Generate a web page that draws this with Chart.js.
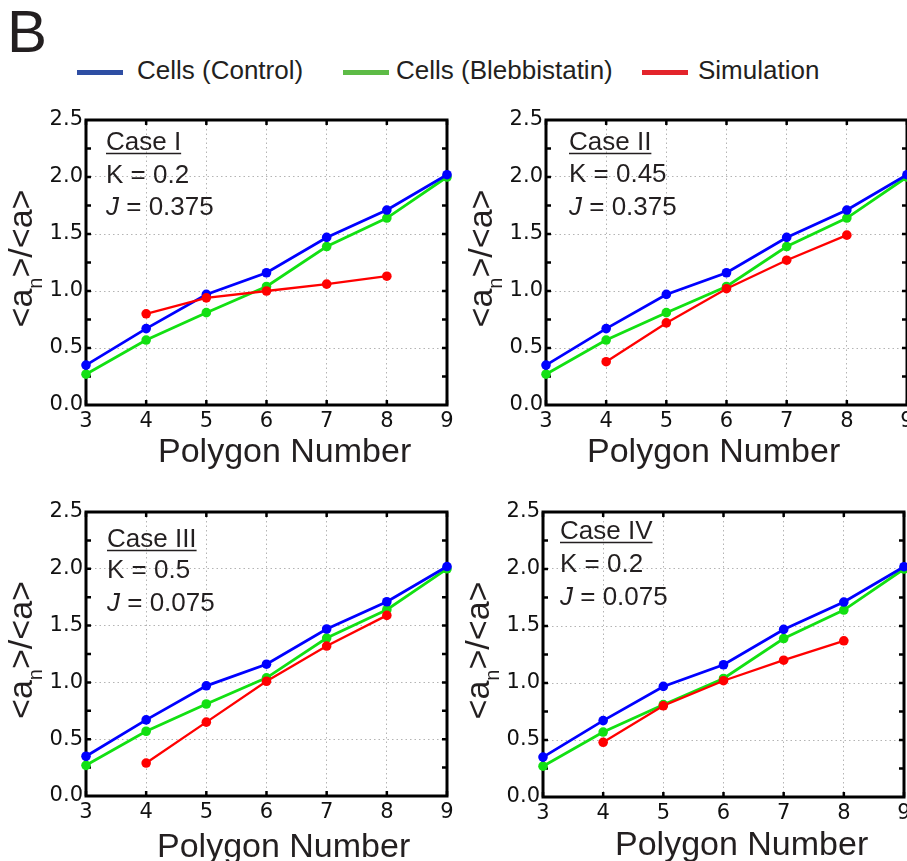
<!DOCTYPE html>
<html>
<head>
<meta charset="utf-8">
<script src="https://cdn.jsdelivr.net/npm/chart.js@4"></script>
<style>
  html, body { margin: 0; padding: 0; background: #fff; overflow: hidden; }
  #page { position: relative; width: 907px; height: 861px; overflow: hidden;
          font-family: "Liberation Sans", Arial, sans-serif; color: #231f20; }
  #page canvas { position: absolute; }
  .letter { position: absolute; left: 7px; top: -2px; font-size: 60px; line-height: 68px; }
  .key { position: absolute; top: 70px; width: 46px; height: 5px; }
  .label { position: absolute; top: 55px; font-size: 26px; line-height: 30px; white-space: nowrap; }
</style>
</head>
<body>
<div id="page">
  <div class="letter">B</div>
  <div class="key" style="left:77px;background:#2e4ea3"></div>
  <div class="label" style="left:137px">Cells (Control)</div>
  <div class="key" style="left:343px;background:#5dbb46"></div>
  <div class="label" style="left:396px">Cells (Blebbistatin)</div>
  <div class="key" style="left:642px;background:#e3242b"></div>
  <div class="label" style="left:698px">Simulation</div>

  <canvas id="c1" width="460" height="380" style="left:0px;top:100px"></canvas>
  <canvas id="c2" width="460" height="380" style="left:460px;top:100px"></canvas>
  <canvas id="c3" width="460" height="380" style="left:0px;top:490px"></canvas>
  <canvas id="c4" width="460" height="380" style="left:457px;top:490px"></canvas>
</div>

<script>
// polygon number (x) and the measured ratios <a_n>/<a>
const polygons = [3, 4, 5, 6, 7, 8, 9];
const control = [0.35, 0.67, 0.97, 1.16, 1.47, 1.71, 2.02];
const blebbistatin = [0.27, 0.57, 0.81, 1.04, 1.39, 1.64, 2.0];

// simulation results for each case
const simCase1 = [null, 0.80, 0.94, 1.00, 1.06, 1.13, null];
const simCase2 = [null, 0.38, 0.72, 1.02, 1.27, 1.49, null];
const simCase3 = [null, 0.29, 0.65, 1.01, 1.32, 1.59, null];
const simCase4 = [null, 0.48, 0.80, 1.02, 1.20, 1.37, null];

const caseNames = ["Case I", "Case II", "Case III", "Case IV"];
const kValues = ["0.2", "0.45", "0.5", "0.2"];
const jValues = ["0.375", "0.375", "0.075", "0.075"];
const yTicks = [0, 0.5, 1.0, 1.5, 2.0, 2.5];

const FONT = '"Liberation Sans", Arial, sans-serif';
const TICK_FONT = '"DejaVu Sans", sans-serif';
const INK = "#231f20";

const toPoints = (vals) =>
  polygons.map((n, i) => ({ x: n, y: vals[i] })).filter((p) => p.y !== null);

// frame, inside tick marks and all the panel texts
const panelDecor = {
  id: "panelDecor",
  beforeDatasetsDraw(chart, args, opts) {
    const { ctx, chartArea: a, scales } = chart;
    const x = scales.x, y = scales.y;
    ctx.save();
    ctx.strokeStyle = "#000";
    ctx.lineWidth = 2.5;
    ctx.beginPath();
    for (let v = 0.25; v < 2.5; v += 0.25) {
      const py = y.getPixelForValue(v);
      ctx.moveTo(a.left, py);
      ctx.lineTo(a.left + 5, py);
      ctx.moveTo(a.right, py);
      ctx.lineTo(a.right - 5, py);
    }
    polygons.forEach((n) => {
      const px = x.getPixelForValue(n);
      ctx.moveTo(px, a.top);
      ctx.lineTo(px, a.top + 5);
      ctx.moveTo(px, a.bottom);
      ctx.lineTo(px, a.bottom - 5);
    });
    ctx.stroke();
    ctx.lineWidth = 3;
    ctx.strokeRect(a.left, a.top, a.right - a.left, a.bottom - a.top);
    ctx.restore();
  },
  afterDraw(chart, args, opts) {
    const { ctx, chartArea: a } = chart;
    ctx.save();
    ctx.fillStyle = INK;
    ctx.strokeStyle = INK;
    ctx.textBaseline = "alphabetic";
    ctx.textAlign = "left";

    // case label block
    const tx = a.left + opts.textDx;
    ctx.font = "26px " + FONT;
    ctx.fillText(opts.name, tx, a.top + opts.lines[0]);
    const w = ctx.measureText(opts.name).width;
    ctx.lineWidth = 1.5;
    ctx.beginPath();
    ctx.moveTo(tx, a.top + opts.lines[0] + 3.5);
    ctx.lineTo(tx + w, a.top + opts.lines[0] + 3.5);
    ctx.stroke();
    ctx.fillText("K = " + opts.k, tx, a.top + opts.lines[1]);
    ctx.font = "italic 26px " + FONT;
    ctx.fillText("J", tx, a.top + opts.lines[2]);
    const jw = ctx.measureText("J").width;
    ctx.font = "26px " + FONT;
    ctx.fillText(" = " + opts.j, tx + jw, a.top + opts.lines[2]);

    // x axis title
    ctx.font = "34px " + FONT;
    ctx.fillText("Polygon Number", a.left + opts.xTitleDx, a.bottom + opts.xTitleDy);

    // y axis title with subscript n
    const big = "34px " + FONT, small = "20px " + FONT;
    ctx.translate(a.left - 54, (a.top + a.bottom) / 2 - 4);
    ctx.rotate(-Math.PI / 2);
    ctx.font = big;
    const w1 = ctx.measureText("<a").width;
    const w3 = ctx.measureText(">/<a>").width;
    ctx.font = small;
    const w2 = ctx.measureText("n").width;
    const x0 = -(w1 + w2 + w3) / 2;
    ctx.font = big;
    ctx.fillText("<a", x0, 0);
    ctx.font = small;
    ctx.fillText("n", x0 + w1, 10);
    ctx.font = big;
    ctx.fillText(">/<a>", x0 + w1 + w2, 0);
    ctx.restore();
  }
};

function makePanel(id, idx, sim, layout) {
  const dot = (color, r) => ({
    borderColor: color,
    backgroundColor: color,
    pointRadius: r,
    pointHoverRadius: r,
    pointBorderWidth: 0,
    clip: false
  });
  new Chart(document.getElementById(id), {
    type: "line",
    data: {
      datasets: [
        { label: "Simulation", data: toPoints(sim), borderWidth: 2.3, order: 1, ...dot("#ff0000", 4.8) },
        { label: "Cells (Control)", data: toPoints(control), borderWidth: 2.8, order: 2, ...dot("#0000ff", 4.8) },
        { label: "Cells (Blebbistatin)", data: toPoints(blebbistatin), borderWidth: 2.8, order: 3, ...dot("#12e012", 4.8) }
      ]
    },
    options: {
      responsive: false,
      animation: false,
      events: [],
      layout: { padding: { top: layout.padTop, right: 13, left: 0, bottom: 0 } },
      plugins: {
        legend: { display: false },
        tooltip: { enabled: false },
        panelDecor: {
          name: caseNames[idx],
          k: kValues[idx],
          j: jValues[idx],
          textDx: layout.textDx,
          lines: layout.lines,
          xTitleDx: layout.xTitleDx,
          xTitleDy: layout.xTitleDy
        }
      },
      scales: {
        x: {
          type: "linear",
          min: 3,
          max: 9,
          afterFit: (s) => { s.height = layout.xAxisH; },
          afterBuildTicks: (s) => { s.ticks = polygons.map((v) => ({ value: v })); },
          border: { display: false, dash: [1.5, 3] },
          grid: { color: "#b4b4b4", lineWidth: 1, drawTicks: false },
          ticks: { color: "#111", font: { family: TICK_FONT, size: 21 }, padding: 4, maxRotation: 0 }
        },
        y: {
          min: 0,
          max: 2.5,
          afterFit: (s) => { s.width = 86; },
          afterBuildTicks: (s) => { s.ticks = yTicks.map((v) => ({ value: v })); },
          border: { display: false, dash: [1.5, 3] },
          grid: { color: "#b4b4b4", lineWidth: 1, drawTicks: false },
          ticks: {
            color: "#111",
            font: { family: TICK_FONT, size: 21 },
            padding: 3,
            callback: (v) => Number(v).toFixed(1)
          }
        }
      }
    },
    plugins: [panelDecor]
  });
}

makePanel("c1", 0, simCase1, { padTop: 20, xAxisH: 75, textDx: 20, lines: [30, 63, 95], xTitleDx: 72, xTitleDy: 57 });
makePanel("c2", 1, simCase2, { padTop: 20, xAxisH: 75, textDx: 23, lines: [30, 62, 95], xTitleDx: 41, xTitleDy: 57 });
makePanel("c3", 2, simCase3, { padTop: 22, xAxisH: 74, textDx: 21, lines: [35, 66, 99], xTitleDx: 71, xTitleDy: 61 });
makePanel("c4", 3, simCase4, { padTop: 22, xAxisH: 73, textDx: 17, lines: [27, 60, 93], xTitleDx: 72, xTitleDy: 58 });
</script>
</body>
</html>
